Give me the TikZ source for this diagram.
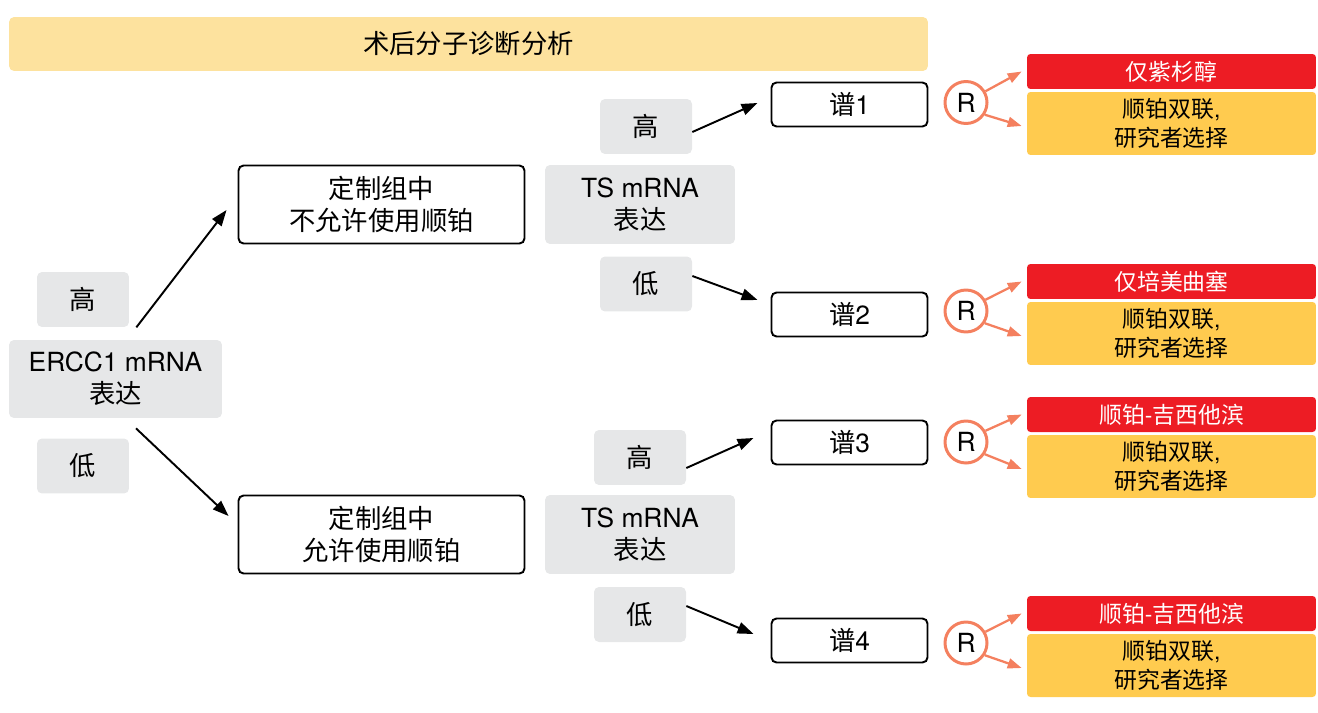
\documentclass[tikz,border=0pt]{standalone}
\usepackage{fontspec}
\setmainfont{Noto Sans CJK SC}
\newfontfamily\lat{TeX Gyre Heros}
\usetikzlibrary{arrows.meta}
\definecolor{grayfill}{HTML}{E6E7E8}
\definecolor{titlefill}{HTML}{FDE29E}
\definecolor{redfill}{HTML}{ED1C24}
\definecolor{yelfill}{HTML}{FFCB4F}
\definecolor{salmon}{HTML}{F4805F}
\begin{document}
\begin{tikzpicture}[x=0.02cm,y=-0.02cm,
  big/.style={font=\fontsize{15}{18}\selectfont, align=center, inner sep=0pt},
  gbox/.style={big, fill=grayfill, rounded corners=0.1cm, minimum width=1.84cm, minimum height=1.1cm},
  ercc/.style={big, fill=grayfill, rounded corners=0.1cm, minimum width=4.26cm, minimum height=1.56cm},
  tsbox/.style={big, fill=grayfill, rounded corners=0.1cm, minimum width=3.8cm, minimum height=1.58cm},
  wbox/.style={big, draw=black, line width=1.1pt, fill=white, rounded corners=0.1cm, minimum width=5.72cm, minimum height=1.56cm},
  pbox/.style={big, draw=black, line width=1.1pt, fill=white, rounded corners=0.1cm, minimum width=3.12cm, minimum height=0.88cm},
  redbox/.style={font=\fontsize{13}{16}\selectfont, text=white, fill=redfill, rounded corners=0.07cm, minimum width=5.78cm, minimum height=0.7cm, inner sep=0pt},
  yelbox/.style={font=\fontsize{13}{16.4}\selectfont, align=center, fill=yelfill, rounded corners=0.07cm, minimum width=5.78cm, minimum height=1.26cm, inner sep=0pt},
  rcirc/.style={circle, draw=salmon, line width=1.7pt, fill=white, minimum size=0.84cm, inner sep=0pt, font=\fontsize{15}{18}\selectfont\lat},
  arr/.style={-{Triangle[length=0.32cm,width=0.23cm]}, line width=1.1pt, black},
  rarr/.style={-{Triangle[length=0.28cm,width=0.2cm]}, line width=1.3pt, salmon}
]
\useasboundingbox (0,0) rectangle (1318,713);

% title
\node[big, fill=titlefill, rounded corners=0.1cm, minimum width=18.38cm, minimum height=1.08cm] (title) at (468.5,44) {术后分子诊断分析};

% left
\node[gbox] (h0) at (83,299.5) {高};
\node[ercc] (e) at (115.5,379) {{\lat ERCC1 mRNA}\\表达};
\node[gbox] (l0) at (83,466) {低};

\node[wbox] (b1) at (381.5,204.5) {定制组中\\不允许使用顺铂};
\node[wbox] (b2) at (381.5,534.5) {定制组中\\允许使用顺铂};

\draw[arr] ([xshift=0.14cm]h0.south east) -- ([xshift=-0.22cm,yshift=-0.11cm]b1.west);
\draw[arr] ([xshift=0.41cm,yshift=-0.2cm]e.south) -- ([xshift=-0.18cm,yshift=0.37cm]b2.west);

% upper TS
\node[gbox] (th1) at (646,126.5) {高};
\node[tsbox] (ts1) at (640,204.5) {{\lat TS mRNA}\\表达};
\node[gbox] (tl1) at (646,284) {低};
\node[pbox] (p1) at (849.5,104.5) {谱{\lat 1}};
\node[pbox] (p2) at (849.5,314.5) {谱{\lat 2}};
\draw[arr] ([yshift=-0.11cm]th1.east) -- ([xshift=-0.26cm,yshift=0.03cm]p1.west);
\draw[arr] ([yshift=0.16cm]tl1.east) -- ([xshift=-0.26cm,yshift=0.29cm]p2.west);

% lower TS
\node[gbox] (th2) at (640,457.5) {高};
\node[tsbox] (ts2) at (640,534.5) {{\lat TS mRNA}\\表达};
\node[gbox] (tl2) at (640,614.5) {低};
\node[pbox] (p3) at (849.5,442.5) {谱{\lat 3}};
\node[pbox] (p4) at (849.5,640.5) {谱{\lat 4}};
\draw[arr] ([yshift=-0.21cm]th2.east) -- ([xshift=-0.34cm,yshift=0.09cm]p3.west);
\draw[arr] ([yshift=0.17cm]tl2.east) -- ([xshift=-0.34cm,yshift=0.13cm]p4.west);

% R circles
\node[rcirc] (r1) at (966,102.5) {R};
\node[rcirc] (r2) at (966,311) {R};
\node[rcirc] (r3) at (966,442) {R};
\node[rcirc] (r4) at (966,643) {R};

% treatment boxes
\node[redbox] (red1) at (1171.5,71.5) {仅紫杉醇};
\node[yelbox] (y1) at (1171.5,123.5) {顺铂双联{\lat,}\\研究者选择};
\node[redbox] (red2) at (1171.5,281.5) {仅培美曲塞};
\node[yelbox] (y2) at (1171.5,333.5) {顺铂双联{\lat,}\\研究者选择};
\node[redbox] (red3) at (1171.5,414.5) {顺铂{\lat -}吉西他滨};
\node[yelbox] (y3) at (1171.5,466.5) {顺铂双联{\lat,}\\研究者选择};
\node[redbox] (red4) at (1171.5,613.5) {顺铂{\lat -}吉西他滨};
\node[yelbox] (y4) at (1171.5,665.5) {顺铂双联{\lat,}\\研究者选择};

\foreach \i in {1,2,3,4}{
  \draw[rarr] (r\i.30) -- ([xshift=-0.1cm]red\i.west);
  \draw[rarr] (r\i.-33) -- ([xshift=-0.1cm,yshift=-0.05cm]y\i.west);
}
\end{tikzpicture}
\end{document}
